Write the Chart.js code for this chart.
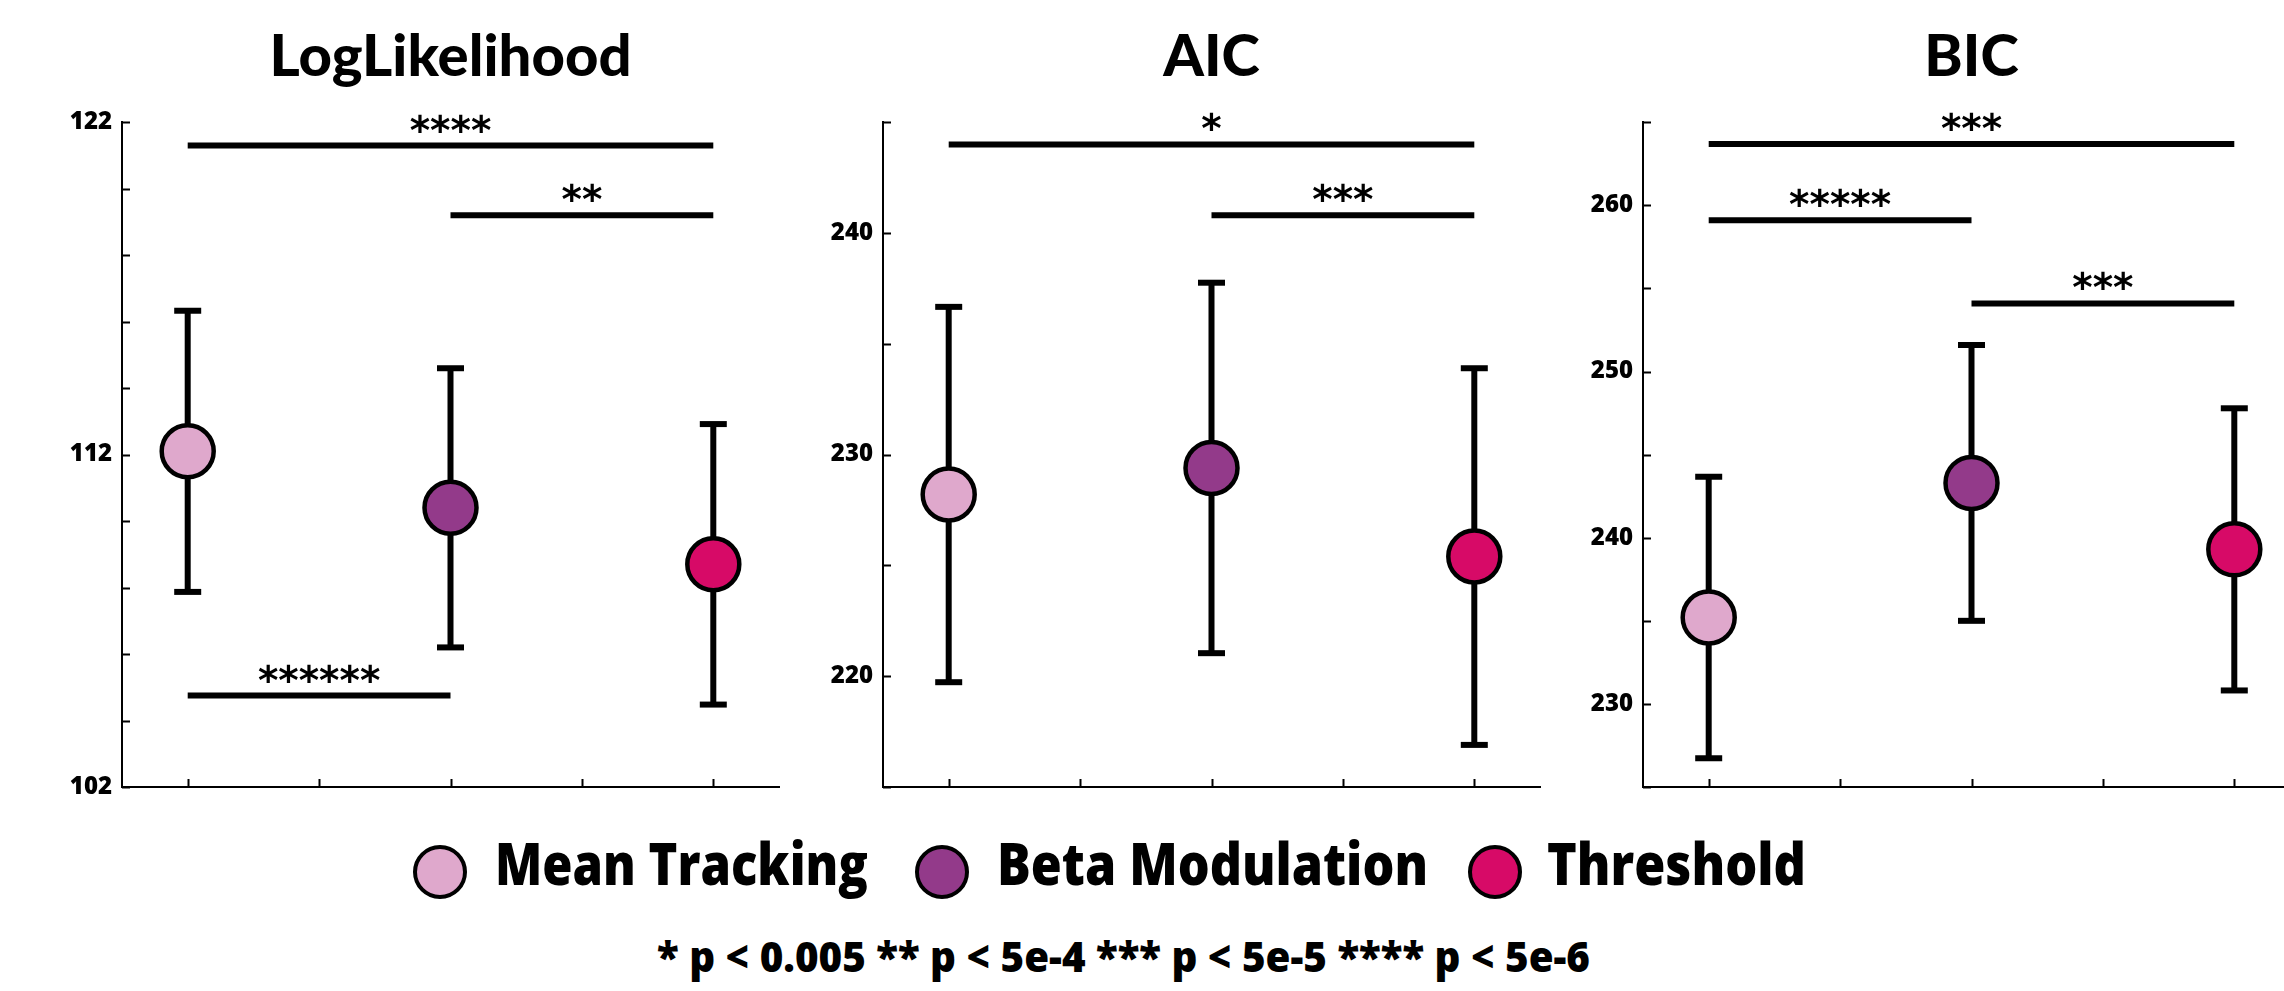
<!DOCTYPE html>
<html>
<head>
<meta charset="utf-8">
<script src="https://cdn.jsdelivr.net/npm/chart.js@4.4.1/dist/chart.umd.min.js"></script>
<style>
  html, body { margin: 0; padding: 0; background: #fff; overflow: hidden; width: 2284px; height: 991px; position: relative; }
  canvas { position: absolute; top: 0; }
  .dot { position: absolute; width: 46px; height: 46px; border: 4px solid #000; border-radius: 50%; }
  .txt { position: absolute; font-family: "Open Sans", sans-serif; font-weight: 800; color: #000; white-space: nowrap; line-height: 1; transform-origin: 0 0; }
</style>
</head>
<body>
<canvas id="c0" width="901" height="827" style="left:0px"></canvas>
<canvas id="c1" width="901" height="827" style="left:761px"></canvas>
<canvas id="c2" width="901" height="827" style="left:1521px"></canvas>
<script>
// datos
const models = ['Mean Tracking', 'Beta Modulation', 'Threshold'];
const modelColors = ['#DFA8CC', '#933A8A', '#D70A67'];
const xPos = [1, 3, 5];
const xTickVals = [1, 2, 3, 4, 5];

const llMean = [112.1, 110.4, 108.7];
const llErr = [4.23, 4.2, 4.22];
const aicMean = [228.2, 229.4, 225.4];
const aicErr = [8.47, 8.36, 8.5];
const bicMean = [235.2, 243.3, 239.3];
const bicErr = [8.47, 8.3, 8.49];

const llTicks = [102, 112, 122];
const aicTicks = [220, 230, 240];
const bicTicks = [230, 240, 250, 260];

// [desde, hasta, y, estrellas]
const llSig = [[1, 5, 121.3, '****'], [3, 5, 119.2, '**'], [1, 3, 104.75, '******']];
const aicSig = [[1, 5, 244.0, '*'], [3, 5, 240.8, '***']];
const bicSig = [[1, 5, 263.7, '***'], [1, 3, 259.1, '*****'], [3, 5, 254.1, '***']];

const footnote = '* p < 0.005 ** p < 5e-4 *** p < 5e-5 **** p < 5e-6';

// ticks hacia dentro, estilo MATLAB
const inwardTicks = {
    id: 'inwardTicks',
    beforeDatasetsDraw(chart) {
        const { ctx, chartArea, scales } = chart;
        ctx.save();
        ctx.strokeStyle = '#000';
        ctx.lineWidth = 2;
        ctx.beginPath();
        scales.y.ticks.forEach(t => {
            const y = Math.round(scales.y.getPixelForValue(t.value)) + 0.5;
            ctx.moveTo(chartArea.left, y);
            ctx.lineTo(chartArea.left + 8, y);
        });
        scales.x.ticks.forEach(t => {
            const x = Math.round(scales.x.getPixelForValue(t.value)) + 0.5;
            ctx.moveTo(x, chartArea.bottom);
            ctx.lineTo(x, chartArea.bottom - 8);
        });
        ctx.stroke();
        ctx.restore();
    }
};

// estrellas sobre las barras de significancia
const sigStars = {
    id: 'sigStars',
    afterDatasetsDraw(chart, args, opts) {
        const { ctx, scales } = chart;
        ctx.save();
        ctx.fillStyle = '#000';
        ctx.font = 'bold 39px "DejaVu Sans"';
        ctx.textAlign = 'center';
        ctx.textBaseline = 'alphabetic';
        opts.items.forEach(s => {
            const x = scales.x.getPixelForValue((s[0] + s[1]) / 2);
            const y = scales.y.getPixelForValue(s[2]);
            ctx.fillText(s[3], x, y - 2);
        });
        ctx.restore();
    }
};

function makePanel(id, title, means, errs, sig, yMin, yMax, step, labels) {
    const datasets = [];
    datasets.push({
        data: xPos.map((x, i) => ({ x: x, y: means[i] })),
        pointRadius: 26,
        pointBackgroundColor: modelColors,
        pointBorderColor: '#000',
        pointBorderWidth: 4.5,
        order: 0
    });
    means.forEach((m, i) => {
        datasets.push({
            data: [{ x: xPos[i], y: m - errs[i] }, { x: xPos[i], y: m + errs[i] }],
            showLine: true,
            borderColor: '#000',
            borderWidth: 6,
            pointStyle: 'line',
            pointRadius: 13.5,
            pointBorderColor: '#000',
            pointBorderWidth: 6,
            order: 1
        });
    });
    sig.forEach(s => {
        datasets.push({
            data: [{ x: s[0], y: s[2] }, { x: s[1], y: s[2] }],
            showLine: true,
            borderColor: '#000',
            borderWidth: 6,
            pointRadius: 0,
            order: 2
        });
    });

    return new Chart(document.getElementById(id).getContext('2d'), {
        type: 'scatter',
        data: { datasets: datasets },
        options: {
            responsive: false,
            animation: false,
            events: [],
            clip: false,
            layout: { padding: { left: 0, right: 122, top: 0, bottom: 0 } },
            plugins: {
                legend: { display: false },
                tooltip: { enabled: false },
                title: {
                    display: true,
                    fullSize: false,
                    text: title,
                    color: '#000',
                    font: { family: 'Lato', weight: 900, size: 58, lineHeight: 1.2 },
                    padding: { top: 22.3, bottom: 30.4 }
                },
                sigStars: { items: sig }
            },
            scales: {
                x: {
                    type: 'linear',
                    min: 0.5,
                    max: 5.5,
                    ticks: { display: false },
                    grid: { display: false },
                    border: { display: true, color: '#000', width: 2 },
                    afterBuildTicks: s => { s.ticks = xTickVals.map(v => ({ value: v })); },
                    afterFit: s => { s.height = 40; }
                },
                y: {
                    min: yMin,
                    max: yMax,
                    ticks: {
                        stepSize: step,
                        autoSkip: false,
                        padding: 10,
                        color: '#000',
                        font: { family: 'Open Sans', weight: 800, size: 24 },
                        callback: v => labels.includes(v) ? String(v) : ''
                    },
                    grid: { display: false, drawTicks: false },
                    border: { display: true, color: '#000', width: 2 },
                    afterFit: s => { s.width = 122; }
                }
            }
        },
        plugins: [inwardTicks, sigStars]
    });
}

makePanel('c0', 'LogLikelihood', llMean, llErr, llSig, 102, 122, 2, llTicks);
makePanel('c1', 'AIC', aicMean, aicErr, aicSig, 215, 245, 5, aicTicks);
makePanel('c2', 'BIC', bicMean, bicErr, bicSig, 225, 265, 5, bicTicks);

// leyenda y nota al pie (texto HTML, comprimido en horizontal)
const mctx = document.createElement('canvas').getContext('2d');
function placeText(str, size, left, baseline, width) {
    const el = document.createElement('div');
    el.className = 'txt';
    el.style.fontSize = size + 'px';
    el.textContent = str;
    mctx.font = '800 ' + size + 'px "Open Sans"';
    const m = mctx.measureText(str);
    const asc = m.fontBoundingBoxAscent, desc = m.fontBoundingBoxDescent;
    el.style.left = left + 'px';
    el.style.top = (baseline - ((size - (asc + desc)) / 2 + asc)) + 'px';
    document.body.appendChild(el);
    const w = el.getBoundingClientRect().width;
    el.style.transform = 'scaleX(' + (width / w) + ')';
}

const dotX = [440, 942, 1495];
const labelX = [495, 997, 1547];
const labelW = [373, 431, 259];
models.forEach((name, i) => {
    const d = document.createElement('div');
    d.className = 'dot';
    d.style.background = modelColors[i];
    d.style.left = (dotX[i] - 27) + 'px';
    d.style.top = (872 - 27) + 'px';
    document.body.appendChild(d);
    placeText(name, 58, labelX[i], 885, labelW[i]);
});
placeText(footnote, 42, 657, 972, 933);
</script>
</body>
</html>
